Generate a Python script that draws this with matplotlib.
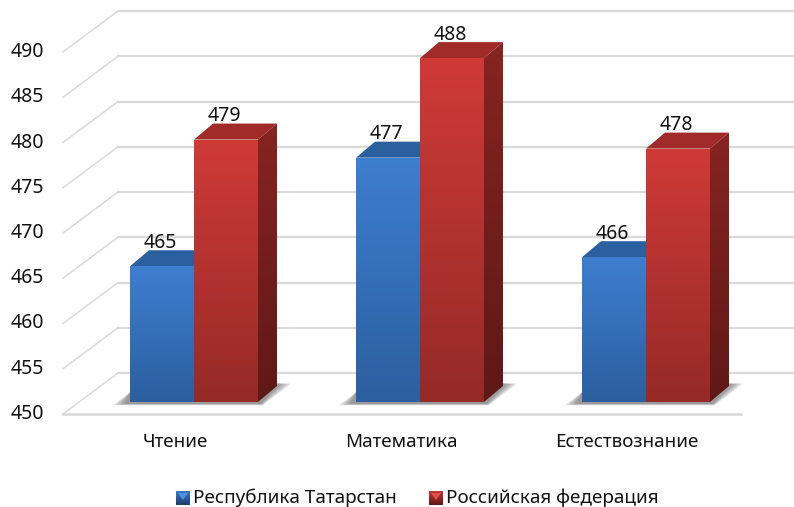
import numpy as np
import matplotlib
matplotlib.use("Agg")
import matplotlib.pyplot as plt
from matplotlib.colors import LinearSegmentedColormap
from matplotlib.patches import Polygon

categories = ["Чтение", "Математика", "Естествознание"]
series_names = ["Республика Татарстан", "Российская федерация"]
tatarstan = [465, 477, 466]
russia = [479, 488, 478]
y_ticks = [450, 455, 460, 465, 470, 475, 480, 485, 490]

plt.rcParams['font.family'] = ['Noto Sans', 'DejaVu Sans']

W, H = 794, 507
PX_X = 226.0   # pixels per category
PX_Y = 9.05    # pixels per score point
X0 = 194.0     # pixel of first category centre
Y0 = 402.0     # pixel of 450 on the bar plane
BAR_W = 64 / PX_X
DX, DY = 19 / PX_X, 16 / PX_Y
BASE = 450

blue = dict(front=("#3e7ecf", "#2b5f9f"), top="#2b609f", side=("#234e85", "#1b3d69"), light="#4f92e0")
red = dict(front=("#cf3a37", "#952a27"), top="#a12b28", side=("#862421", "#5e1917"), light="#e0504c")

fig = plt.figure(figsize=(W / 100, H / 100), dpi=100)
ax = fig.add_axes([0, 0, 1, 1])
xlim = (-X0 / PX_X, (W - X0) / PX_X)
ylim = (BASE - (H - Y0) / PX_Y, BASE + Y0 / PX_Y)
ax.axis("off")


def px(x):
    return (x - X0) / PX_X


def py(y):
    return BASE + (Y0 - y) / PX_Y


# wall and side-wall gridlines
back_dy = 29 / PX_Y
front_dy = -12 / PX_Y
for t in y_ticks:
    ax.plot([px(63), px(118)], [t + front_dy, t + back_dy], color="#dcdcdc", lw=1.2, zorder=1)
    ax.plot([px(118), px(794)], [t + back_dy, t + back_dy], color="#d9d9d9", lw=1.6, zorder=1)
    ax.text(px(27), t + front_dy, str(t), ha="center", va="center", fontsize=14, color="#111111")
ax.plot([px(63), px(741)], [BASE + front_dy, BASE + front_dy], color="#d9d9d9", lw=1.8, zorder=1)


def gradient_poly(pts, colors, z):
    poly = Polygon(pts, closed=True, facecolor="none", edgecolor="none", zorder=z)
    ax.add_patch(poly)
    c = LinearSegmentedColormap.from_list("g", colors)
    xs, ys = zip(*pts)
    im = ax.imshow(np.linspace(0, 1, 256).reshape(-1, 1), cmap=c, aspect="auto",
                   extent=(min(xs), max(xs), min(ys), max(ys)), origin="upper", zorder=z)
    im.set_clip_path(poly)


def bar3d(x, v, style, z):
    l, r = x, x + BAR_W
    gradient_poly([(l, BASE), (r, BASE), (r, v), (l, v)], style["front"], z + 2)
    ax.add_patch(Polygon([(l, v), (r, v), (r + DX, v + DY), (l + DX, v + DY)], closed=True,
                         color=style["top"], lw=0, zorder=z + 1))
    gradient_poly([(r, BASE), (r + DX, BASE + DY), (r + DX, v + DY), (r, v)], style["side"], z + 1)


def shadow(l, r):
    # soft floor shadow under a pair of bars, built up from a few faint layers
    for k in np.linspace(0, 1, 6):
        ax.add_patch(Polygon([(l - DX * (.9 - .6 * k), BASE - .35 + .15 * k),
                              (r + DX * (.25 - .1 * k), BASE - .35 + .15 * k),
                              (r + DX * (1.75 - .6 * k), BASE + DY * 1.15),
                              (r + DX, BASE + DY * 1.15),
                              (l, BASE + DY * .6)],
                             closed=True, color="#666666", alpha=.16, lw=0, zorder=2))


for i in range(len(categories)):
    shadow(i - BAR_W, i + BAR_W)
    bar3d(i - BAR_W, tatarstan[i], blue, 3)
    bar3d(i, russia[i], red, 8)
    for x, v in ((i - BAR_W, tatarstan[i]), (i, russia[i])):
        ax.text(x + BAR_W / 2 - 2 / PX_X, v + DY + 7.5 / PX_Y, str(v), ha="center", va="center",
                fontsize=14, color="#111111", zorder=20)
    ax.text(i - 19 / PX_X, py(442), categories[i], ha="center", va="center",
            fontsize=13.5, color="#111111")

# legend
leg_y = py(498)
for name, st, xp in zip(series_names, (blue, red), (176, 429)):
    left, right = px(xp), px(xp + 14)
    low, high = leg_y - 7 / PX_Y, leg_y + 7 / PX_Y
    gradient_poly([(left, low), (right, low), (right, high), (left, high)],
                  (st["front"][0], st["side"][1]), 5)
    # bevelled marker: lighter wedge from the top edge
    ax.add_patch(Polygon([(left + 2 / PX_X, high - 2 / PX_Y), (right - 2 / PX_X, high - 2 / PX_Y),
                          ((left + right) / 2, leg_y - 2 / PX_Y)],
                         closed=True, color=st["light"], lw=0, zorder=6))
    ax.text(px(xp + 17), leg_y, name, ha="left", va="center", fontsize=13.6, color="#111111")

ax.set_xlim(xlim)
ax.set_ylim(ylim)
fig.savefig("out.png", dpi=100)
